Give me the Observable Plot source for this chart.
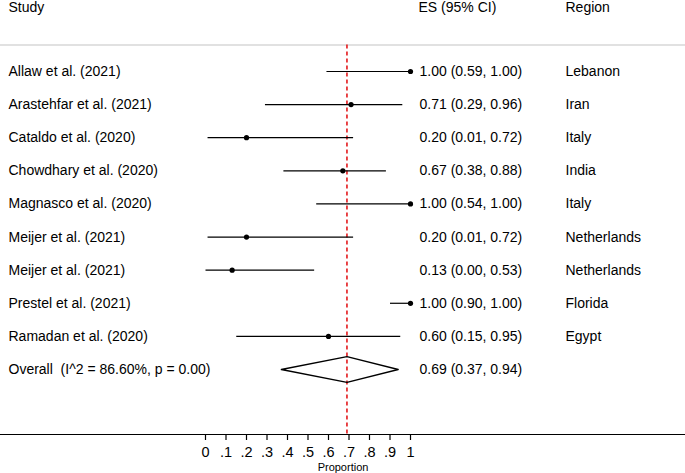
<!DOCTYPE html>
<html>
<head>
<meta charset="utf-8">
<script src="https://cdn.jsdelivr.net/npm/d3@7"></script>
<script src="https://cdn.jsdelivr.net/npm/@observablehq/plot@0.6"></script>
<style>
  html, body { margin: 0; padding: 0; background: white; }
</style>
</head>
<body>
<div id="chart"></div>
<script>
const studies = [
  "Allaw et al. (2021)",
  "Arastehfar et al. (2021)",
  "Cataldo et al. (2020)",
  "Chowdhary et al. (2020)",
  "Magnasco et al. (2020)",
  "Meijer et al. (2021)",
  "Meijer et al. (2021)",
  "Prestel et al. (2021)",
  "Ramadan et al. (2020)"
];
const esValues = [1.00, 0.71, 0.20, 0.67, 1.00, 0.20, 0.13, 1.00, 0.60];
const ciLow    = [0.59, 0.29, 0.01, 0.38, 0.54, 0.01, 0.00, 0.90, 0.15];
const ciHigh   = [1.00, 0.96, 0.72, 0.88, 1.00, 0.72, 0.53, 1.00, 0.95];
const regions  = ["Lebanon", "Iran", "Italy", "India", "Italy", "Netherlands", "Netherlands", "Florida", "Egypt"];

const overallLabel = "Overall\u00a0 (I^2 = 86.60%, p = 0.00)";
const overallES = 0.69, overallLow = 0.37, overallHigh = 0.94;

const headers = ["Study", "ES (95% CI)", "Region"];
const tickValues = [0, 0.1, 0.2, 0.3, 0.4, 0.5, 0.6, 0.7, 0.8, 0.9, 1];
const tickLabels = ["0", ".1", ".2", ".3", ".4", ".5", ".6", ".7", ".8", ".9", "1"];
const axisTitle = "Proportion";

const fmt = v => v.toFixed(2);
const rows = studies.map((s, i) => ({
  study: s, es: esValues[i], lo: ciLow[i], hi: ciHigh[i], region: regions[i], row: i,
  esText: `${fmt(esValues[i])} (${fmt(ciLow[i])}, ${fmt(ciHigh[i])})`
}));
const overallRow = studies.length;
const overall = [{
  study: overallLabel, row: overallRow,
  esText: `${fmt(overallES)} (${fmt(overallLow)}, ${fmt(overallHigh)})`, region: ""
}];
const diamond = [
  {x: overallLow, y: overallRow},
  {x: overallES, y: overallRow - 0.39},
  {x: overallHigh, y: overallRow},
  {x: overallES, y: overallRow + 0.39},
  {x: overallLow, y: overallRow}
];
const ticks = tickValues.map((v, i) => ({value: v, label: tickLabels[i]}));
const headerRow = -2;
const topLineRow = -0.8;
const xMax = 1;

const chart = Plot.plot({
  width: 685,
  height: 473,
  marginTop: 0,
  marginRight: 0,
  marginBottom: 39,
  marginLeft: 0,
  x: {domain: [0, 1], range: [205, 410], axis: null},
  y: {domain: [0, 9], range: [71, 369], axis: null},
  style: {fontFamily: "'Liberation Sans', Arial, sans-serif", fontSize: "14px", color: "black", background: "white"},
  marks: [
    Plot.ruleY([topLineRow], {y: d => d, stroke: "#c4c4c4", strokeWidth: 1.2}),
    Plot.ruleX([overallES], {x: d => d, y1: topLineRow, y2: 14, stroke: "#e3191c", strokeWidth: 1.6, strokeDasharray: "4,3", clip: true}),
    Plot.frame({anchor: "bottom", stroke: "black", strokeWidth: 1.2}),
    Plot.axisX({anchor: "bottom", ticks: tickValues, tickFormat: () => "", tickSize: 6, label: null, stroke: "black", strokeWidth: 1.2}),
    Plot.text(ticks, {x: "value", text: "label", frameAnchor: "bottom", dy: 18, lineAnchor: "middle", fontSize: 14.5}),
    Plot.text([axisTitle], {frameAnchor: "bottom", text: d => d, dy: 33, lineAnchor: "middle", fontSize: 11}),
    Plot.link(rows, {x1: "lo", x2: "hi", y1: "row", y2: "row", stroke: "black", strokeWidth: 1.2}),
    Plot.dot(rows, {x: "es", y: "row", r: 2.6, fill: "black", stroke: null}),
    Plot.line(diamond, {x: "x", y: "y", stroke: "black", strokeWidth: 1.3}),
    // Column headers
    Plot.text(headers.slice(0, 1), {text: d => d, y: () => headerRow, dy: 2, frameAnchor: "left", dx: 8, textAnchor: "start"}),
    Plot.text(headers.slice(1, 2), {text: d => d, x: () => xMax, y: () => headerRow, dy: 2, dx: 8, textAnchor: "start"}),
    Plot.text(headers.slice(2, 3), {text: d => d, x: () => xMax, y: () => headerRow, dy: 2, dx: 155, textAnchor: "start"}),
    // Row texts
    Plot.text(rows.concat(overall), {text: "study", y: "row", frameAnchor: "left", dx: 8, textAnchor: "start"}),
    Plot.text(rows.concat(overall), {text: "esText", x: () => xMax, y: "row", dx: 9, textAnchor: "start"}),
    Plot.text(rows, {text: "region", x: () => xMax, y: "row", dx: 155, textAnchor: "start"})
  ]
});
document.getElementById("chart").appendChild(chart);
</script>
</body>
</html>
